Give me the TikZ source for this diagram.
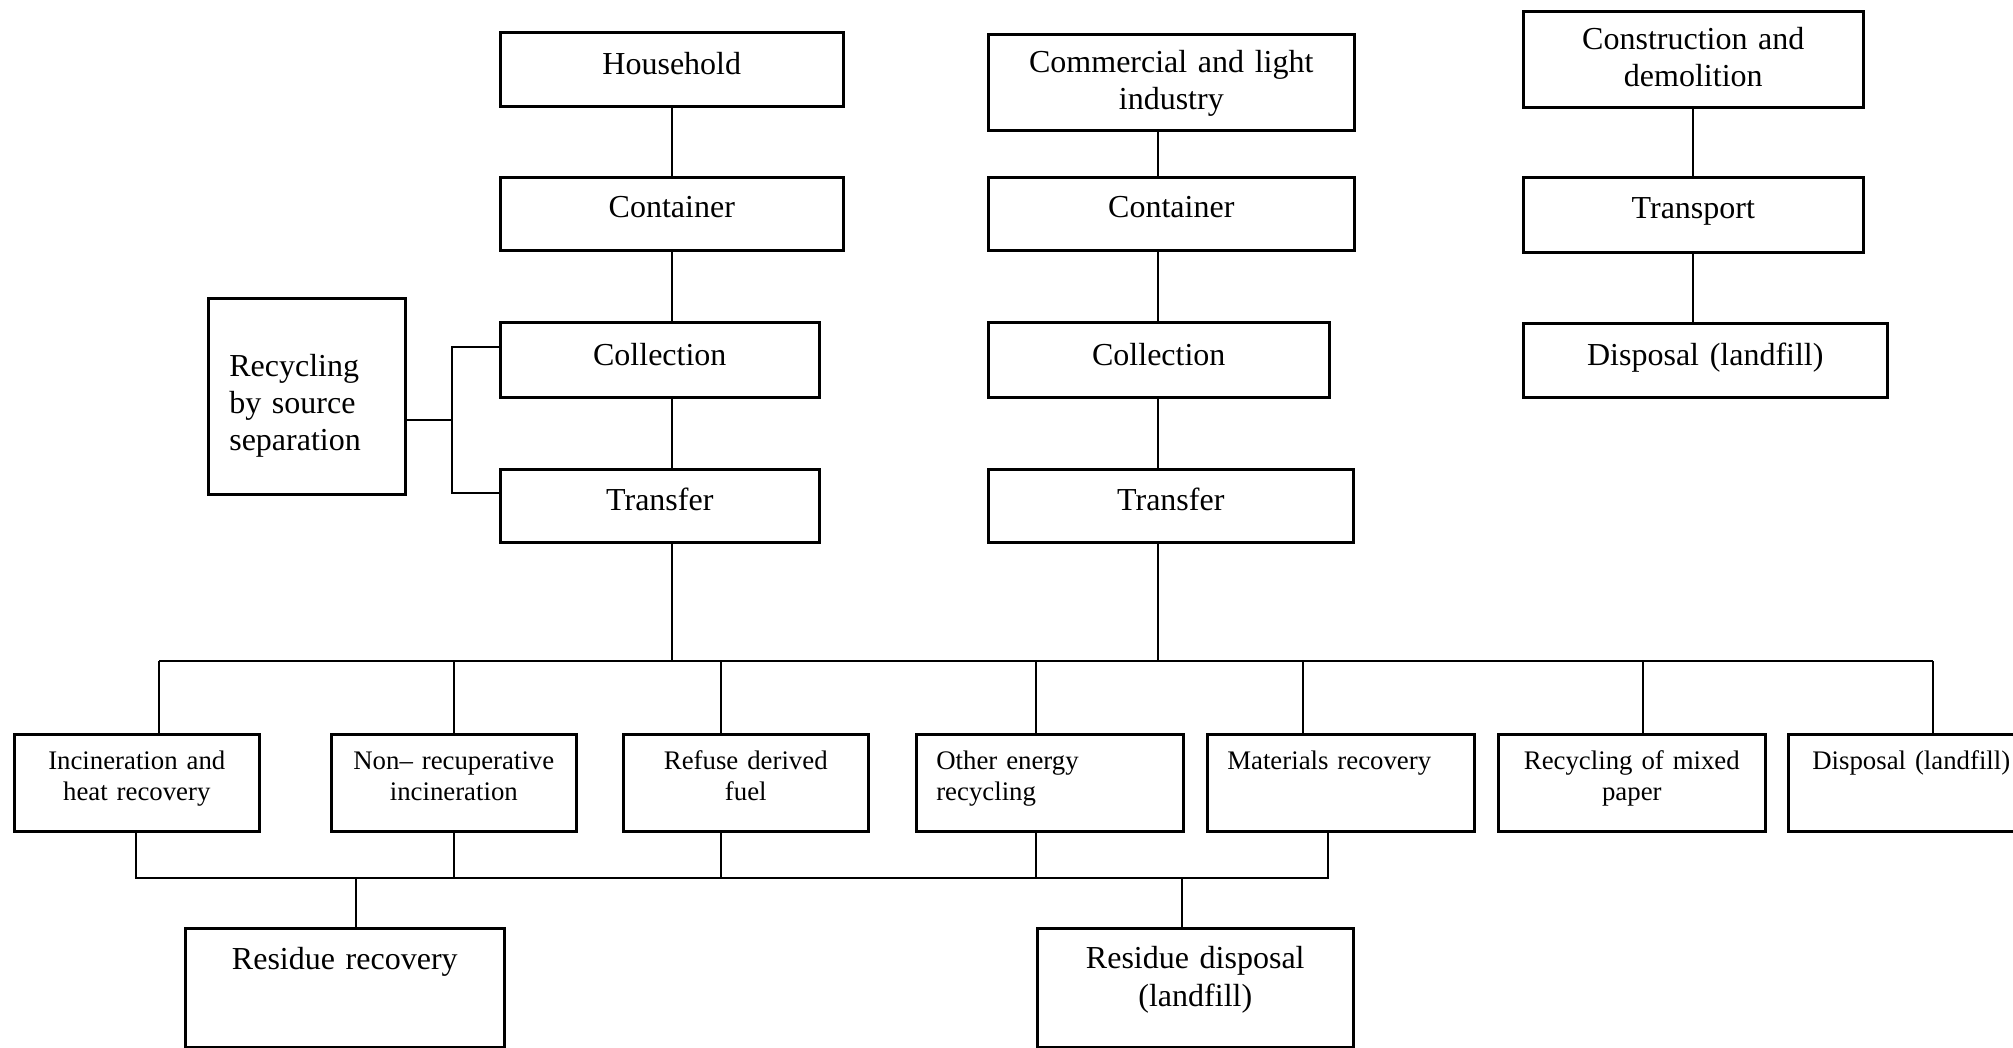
\documentclass[tikz,border=0pt]{standalone}
\usepackage{fontspec}
\setmainfont{Liberation Serif}
\tikzset{
  bx/.style={draw, line width=1.3pt, inner ysep=0pt, inner xsep=0pt, anchor=north west, align=center},
  big/.style={font=\fontsize{16}{18.5}\selectfont},
  res/.style={font=\fontsize{16}{19}\selectfont},
  sml/.style={font=\fontsize{13.4}{15.5}\selectfont},
  ln/.style={line width=0.9pt},
  rowb/.style={bx, sml, text height=17.5pt, text depth=31pt},
}
\begin{document}
\begin{tikzpicture}[x=0.5pt, y=-0.5pt]
\useasboundingbox (0,0) rectangle (2013,1048);
% column 1
\node[bx, big, text width=171.5pt, text height=21pt, text depth=16pt] (hh) at (499,31) {Household};
\node[bx, big, text width=171.5pt, text height=20pt, text depth=16.5pt] (c1) at (499,176) {Container};
\node[bx, big, text width=159.5pt, text height=21.5pt, text depth=16pt] (col1) at (499,321) {Collection};
\node[bx, big, text width=159.5pt, text height=20.5pt, text depth=16pt] (tr1) at (499,468) {Transfer};
\node[bx, big, align=left, inner xsep=10.5pt, text width=77.5pt, text height=39pt, text depth=59pt] (rec) at (207,297) {Recycling\\by source\\separation};
% column 2
\node[bx, big, text width=183pt, text height=19pt, text depth=29pt] (cm) at (987,33) {Commercial and light\\industry};
\node[bx, big, text width=183pt, text height=20pt, text depth=16.5pt] (c2) at (987,176) {Container};
\node[bx, big, text width=170.5pt, text height=21.5pt, text depth=16pt] (col2) at (987,321) {Collection};
\node[bx, big, text width=182.5pt, text height=20.5pt, text depth=16pt] (tr2) at (987,468) {Transfer};
% column 3
\node[bx, big, text width=170pt, text height=19pt, text depth=29pt] (cd) at (1522,10) {Construction and\\demolition};
\node[bx, big, text width=170pt, text height=20.5pt, text depth=17pt] (tp) at (1522,176) {Transport};
\node[bx, big, text width=182pt, text height=21pt, text depth=16pt] (dt) at (1522,322) {Disposal (landfill)};
% bottom row
\node[rowb, text width=122.5pt] (inc) at (13,733) {Incineration and\\heat recovery};
\node[rowb, text width=122.5pt] (nr) at (330,733) {Non– recuperative\\incineration};
\node[rowb, text width=122.5pt] (rdf) at (622,733) {Refuse derived\\fuel};
\node[rowb, align=left, inner xsep=10pt, text width=113.5pt] (oe) at (915,733) {Other energy\\recycling};
\node[rowb, align=left, inner xsep=10pt, text width=113.5pt] (mr) at (1206,733) {Materials recovery};
\node[rowb, text width=133.5pt] (mp) at (1497,733) {Recycling of mixed\\paper};
\node[rowb, align=left, inner xsep=12pt, text width=110pt] (db) at (1787,733) {Disposal (landfill)};
% residues
\node[bx, res, text width=159.5pt, text height=20.5pt, text depth=39pt] (rr) at (184,927) {Residue recovery};
\node[bx, res, text width=158pt, text height=20pt, text depth=39.5pt] (rd) at (1036,927) {Residue disposal\\(landfill)};
% coordinates
\coordinate (brkT) at (452,347);
\coordinate (brk) at (452,420);
\coordinate (brkB) at (452,493);
\coordinate (cmx) at (1158,661);
\coordinate (bus1L) at (159,661);
\coordinate (bus1R) at (1933,661);
\coordinate (d3) at (721,661);
\coordinate (d4) at (1036,661);
\coordinate (d5) at (1303,661);
\coordinate (d6) at (1643,661);
\coordinate (bus2L) at (136,878);
\coordinate (bus2R) at (1328,878);
\coordinate (r1) at (356,878);
\coordinate (r2) at (1182,878);
% column 1 connectors
\draw[ln] (hh.south) -- (c1.north);
\draw[ln] (c1.south) -- (c1.south |- col1.north);
\draw[ln] (col1.south -| c1.south) -- (c1.south |- tr1.north);
\draw[ln] (tr1.south -| c1.south) -- (c1.south |- bus1L);
% recycling bracket
\draw[ln] (col1.west |- brkT) -- (brkT) -- (brkB) -- (tr1.west |- brkB);
\draw[ln] (rec.east |- brk) -- (brk);
% column 2 connectors
\draw[ln] (cm.south -| cmx) -- (c2.north -| cmx);
\draw[ln] (c2.south -| cmx) -- (col2.north -| cmx);
\draw[ln] (col2.south -| cmx) -- (tr2.north -| cmx);
\draw[ln] (tr2.south -| cmx) -- (cmx);
% column 3 connectors
\draw[ln] (cd.south) -- (tp.north);
\draw[ln] (tp.south) -- (tp.south |- dt.north);
% upper bus
\draw[ln] (bus1L) -- (bus1R);
\draw[ln] (bus1L) -- (bus1L |- inc.north);
\draw[ln] (nr.north |- bus1L) -- (nr.north);
\draw[ln] (d3) -- (d3 |- rdf.north);
\draw[ln] (d4) -- (d4 |- oe.north);
\draw[ln] (d5) -- (d5 |- mr.north);
\draw[ln] (d6) -- (d6 |- mp.north);
\draw[ln] (bus1R) -- (bus1R |- db.north);
% lower bus
\draw[ln] (inc.south -| bus2L) -- (bus2L) -- (bus2R) -- (mr.south -| bus2R);
\draw[ln] (nr.south) -- (nr.south |- bus2L);
\draw[ln] (rdf.south -| d3) -- (d3 |- bus2L);
\draw[ln] (oe.south -| d4) -- (d4 |- bus2L);
\draw[ln] (r1) -- (r1 |- rr.north);
\draw[ln] (r2) -- (r2 |- rd.north);
\end{tikzpicture}
\end{document}
